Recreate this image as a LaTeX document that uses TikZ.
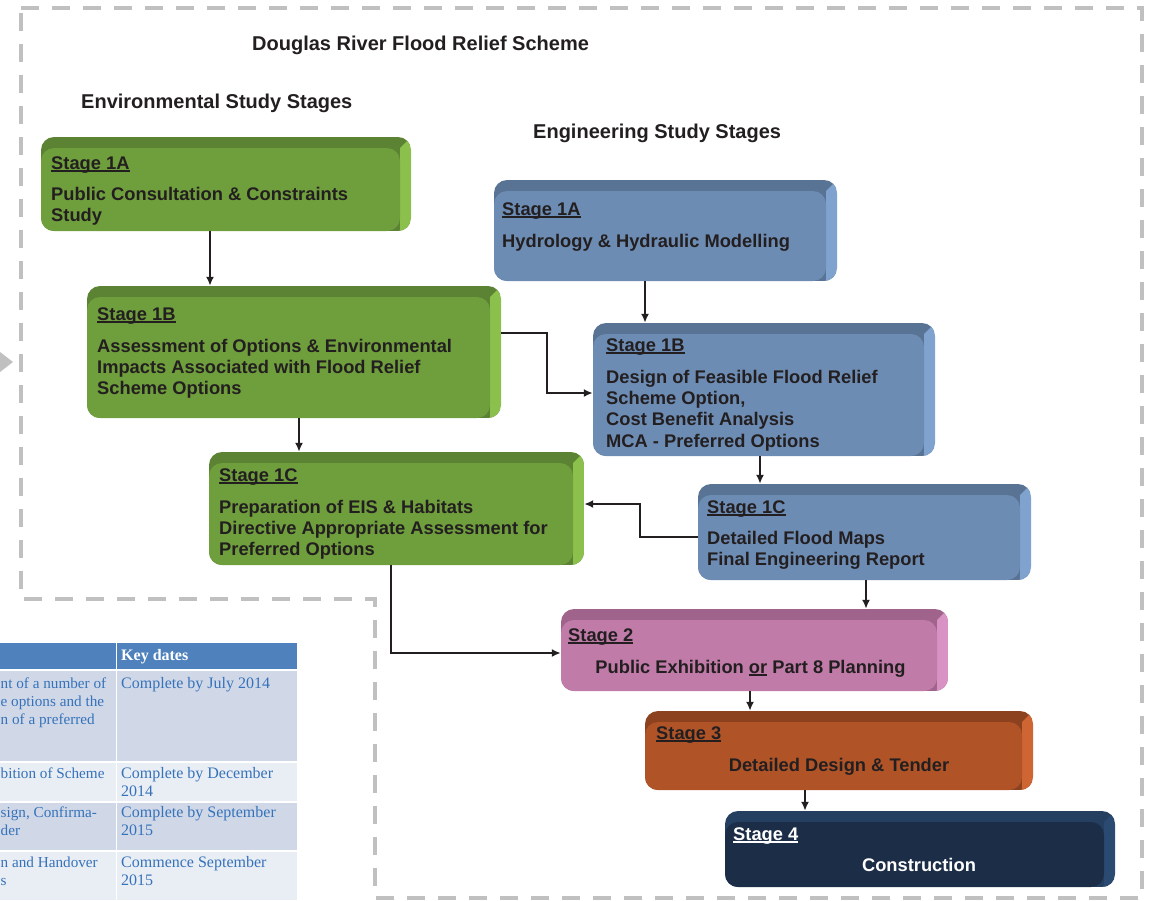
\documentclass[tikz,border=0pt]{standalone}
\usepackage{fontspec}
\setmainfont{Liberation Sans}
\newfontfamily\tabfont{Liberation Serif}
\usetikzlibrary{fit,arrows.meta}
\definecolor{txt}{HTML}{231F20}
\definecolor{gface}{HTML}{6F9E3C}
\definecolor{gtop}{HTML}{5C8234}
\definecolor{gside}{HTML}{8CC04C}
\definecolor{bface}{HTML}{6D8CB4}
\definecolor{btop}{HTML}{587393}
\definecolor{bside}{HTML}{80A2CE}
\definecolor{pface}{HTML}{C07BA9}
\definecolor{ptop}{HTML}{A0648C}
\definecolor{pside}{HTML}{D892C4}
\definecolor{oface}{HTML}{B05428}
\definecolor{otop}{HTML}{8C421E}
\definecolor{oside}{HTML}{CF6533}
\definecolor{nface}{HTML}{1C2D48}
\definecolor{ntop}{HTML}{253F61}
\definecolor{nside}{HTML}{2B4A72}
\definecolor{dashgray}{HTML}{C0C0C0}
\definecolor{hdrblue}{HTML}{4F81BD}
\definecolor{rowa}{HTML}{D0D8E8}
\definecolor{rowb}{HTML}{E9EDF4}
\definecolor{tabblue}{HTML}{3572BA}
\newcommand\stul[1]{\setbox0\hbox{#1}\rlap{\rule[-2.8pt]{\wd0}{1.8pt}}\box0\relax}
\newcommand\stagebox[8]{%
  \begin{scope}
    \clip[rounded corners=13] (#2,#3) rectangle (#4,#5);
    \fill[#7] (#2,#3) rectangle (#4,#5);
    \fill[#8] (#4,#3) -- (#4,#5) -- ({#4-11},#5) -- ({#4-11},{#3+11}) -- cycle;
    \fill[#6, rounded corners=13] (#2,{#3+11}) rectangle ({#4-11},#5);
  \end{scope}
  \node[fit={(#2,#3)(#4,#5)}, inner sep=0] (#1) {};
}
\tikzset{
  outline/.style={draw=dashgray, line width=4pt, dash pattern=on 18pt off 13pt},
  tri/.style={fill=dashgray},
  title/.style={anchor=base west, inner sep=0, font=\fontsize{20}{24}\selectfont\bfseries, text=txt},
  bt/.style={anchor=base west, inner sep=0, font=\fontsize{18.3}{21.5}\selectfont\bfseries, text=txt},
  btc/.style={bt, anchor=base},
  wt/.style={bt, text=white},
  wtc/.style={btc, text=white},
  tt/.style={anchor=base west, inner sep=0, font=\tabfont\fontsize{16}{18}\selectfont, text=tabblue},
  ttl/.style={tt, font=\tabfont\fontsize{15.2}{18}\selectfont},
  th/.style={tt, font=\tabfont\fontsize{16}{18}\selectfont\bfseries, text=white},
  arr/.style={draw=txt, line width=2.2pt, -{Latex[length=9pt,width=8pt]}}
}
\begin{document}
\begin{tikzpicture}[x=1pt,y=-1pt]
\useasboundingbox (0,0) rectangle (1151,900);
% outline
\draw[outline] (21,8) -- (1142,8) -- (1142,898) -- (375,898) -- (375,599) -- (21,599) -- cycle;
\fill[tri] (0,352) -- (13,362) -- (0,372) -- cycle;
% table
\fill[hdrblue] (0,643) rectangle (116,669);
\fill[hdrblue] (117,643) rectangle (297,669);
\fill[rowa] (0,671) rectangle (116,761);
\fill[rowa] (117,671) rectangle (297,761);
\fill[rowb] (0,763) rectangle (116,801);
\fill[rowb] (117,763) rectangle (297,801);
\fill[rowa] (0,803) rectangle (116,850);
\fill[rowa] (117,803) rectangle (297,850);
\fill[rowb] (0,852) rectangle (116,900);
\fill[rowb] (117,852) rectangle (297,900);
\node[th] (kd) at (121,660) {Key dates};
\node[tt] (d1) at (121,688) {Complete by July 2014};
\node[tt] (d2a) at (121,778) {Complete by December};
\node[tt] (d2b) at (121,796) {2014};
\node[tt] (d3a) at (121,817) {Complete by September};
\node[tt] (d3b) at (121,835) {2015};
\node[tt] (d4a) at (121,867) {Commence September};
\node[tt] (d4b) at (121,885) {2015};
\node[ttl] (s1a) at (0.5,688) {nt of a number of};
\node[ttl] (s1b) at (0.5,706) {e options and the};
\node[ttl] (s1c) at (0.5,724) {n of a preferred};
\node[ttl] (s2a) at (0.5,778) {bition of Scheme};
\node[ttl] (s3a) at (0.5,817) {sign, Confirma-};
\node[ttl] (s3b) at (0.5,835) {der};
\node[ttl] (s4a) at (0.5,867) {n and Handover};
\node[ttl] (s4b) at (0.5,885) {s};
% titles
\node[title] (t0) at (252,50) {Douglas River Flood Relief Scheme};
\node[title] (t1) at (81,108) {Environmental Study Stages};
\node[title] (t2) at (533,138) {Engineering Study Stages};
% boxes
\stagebox{ga}{41}{137}{411}{231}{gface}{gtop}{gside}
\stagebox{gb}{87}{286}{501}{418}{gface}{gtop}{gside}
\stagebox{gc}{209}{452}{584}{565}{gface}{gtop}{gside}
\stagebox{ba}{494}{180}{837}{281}{bface}{btop}{bside}
\stagebox{bb}{593}{323}{935}{456}{bface}{btop}{bside}
\stagebox{bc}{698}{484}{1031}{580}{bface}{btop}{bside}
\stagebox{pk}{561}{609}{948}{691}{pface}{ptop}{pside}
\stagebox{og}{645}{711}{1033}{790}{oface}{otop}{oside}
\stagebox{nv}{725}{811}{1115}{887}{nface}{ntop}{nside}
% texts
\node[bt] (ga0) at (51,169) {\stul{Stage 1A}};
\node[bt] (ga1) at (51,200) {Public Consultation \& Constraints};
\node[bt] (ga2) at (51,221) {Study};
\node[bt] (gb0) at (97,320) {\stul{Stage 1B}};
\node[bt] (gb1) at (97,352) {Assessment of Options \& Environmental};
\node[bt] (gb2) at (97,373) {Impacts Associated with Flood Relief};
\node[bt] (gb3) at (97,394) {Scheme Options};
\node[bt] (gc0) at (219,481) {\stul{Stage 1C}};
\node[bt] (gc1) at (219,513) {Preparation of EIS \& Habitats};
\node[bt] (gc2) at (219,534) {Directive Appropriate Assessment for};
\node[bt] (gc3) at (219,555) {Preferred Options};
\node[bt] (ba0) at (502,215) {\stul{Stage 1A}};
\node[bt] (ba1) at (502,247) {Hydrology \& Hydraulic Modelling};
\node[bt] (bb0) at (606,351) {\stul{Stage 1B}};
\node[bt] (bb1) at (606,383) {Design of Feasible Flood Relief};
\node[bt] (bb2) at (606,404) {Scheme Option,};
\node[bt] (bb3) at (606,425) {Cost Benefit Analysis};
\node[bt] (bb4) at (606,447) {MCA - Preferred Options};
\node[bt] (bc0) at (707,513) {\stul{Stage 1C}};
\node[bt] (bc1) at (707,544) {Detailed Flood Maps};
\node[bt] (bc2) at (707,565) {Final Engineering Report};
\node[bt] (pk0) at (568,641) {\stul{Stage 2}};
\node[btc] (pk1) at (750.5,673) {Public Exhibition \stul{or} Part 8 Planning};
\node[bt] (og0) at (656,739) {\stul{Stage 3}};
\node[btc] (og1) at (839,771) {Detailed Design \& Tender};
\node[wt] (nv0) at (733,840) {\color{white}\stul{Stage 4}};
\node[wtc] (nv1) at (919,871) {Construction};
% connectors
\draw[arr] (210,0 |- ga.south) -- (210,0 |- gb.north);
\draw[arr] (299,0 |- gb.south) -- (299,0 |- gc.north);
\draw[arr] (645,0 |- ba.south) -- (645,0 |- bb.north);
\draw[arr] (760,0 |- bb.south) -- (760,0 |- bc.north);
\draw[arr] (866,0 |- bc.south) -- (866,0 |- pk.north);
\draw[arr] (750,0 |- pk.south) -- (750,0 |- og.north);
\draw[arr] (805,0 |- og.south) -- (805,0 |- nv.north);
\draw[arr] (gb.east |- 0,333) -- (547,333) -- (547,393) -- (bb.west |- 0,393);
\draw[arr] (bc.west |- 0,537) -- (640,537) -- (640,504) -- (gc.east |- 0,504);
\draw[arr] (391,0 |- gc.south) -- (391,653) -- (pk.west |- 0,653);
\end{tikzpicture}
\end{document}
